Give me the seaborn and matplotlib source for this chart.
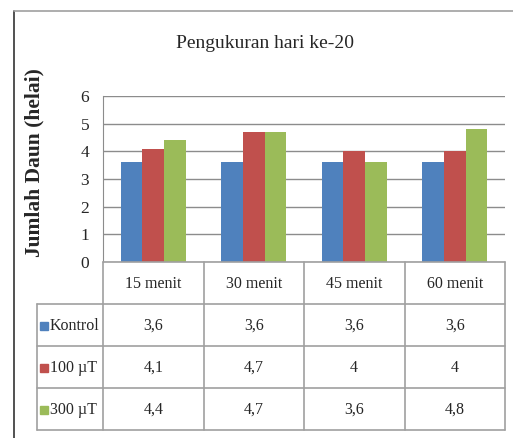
import matplotlib
matplotlib.use("Agg")
import matplotlib.pyplot as plt
import seaborn as sns
import pandas as pd
from matplotlib.lines import Line2D

# data
waktu = ["15 menit", "30 menit", "45 menit", "60 menit"]
perlakuan = ["Kontrol", "100 µT", "300 µT"]
kontrol = [3.6, 3.6, 3.6, 3.6]
ut100 = [4.1, 4.7, 4.0, 4.0]
ut300 = [4.4, 4.7, 3.6, 4.8]
warna = ["#4F81BD", "#C0504D", "#9BBB59"]

nilai = [kontrol, ut100, ut300]
df = pd.DataFrame({
    "waktu": waktu * 3,
    "perlakuan": [p for p in perlakuan for _ in waktu],
    "jumlah": kontrol + ut100 + ut300,
})

sns.set_style("white")
plt.rcParams["font.family"] = ["Liberation Serif", "DejaVu Serif"]

W, H = 513, 438
fig = plt.figure(figsize=(W / 100, H / 100), dpi=100)


def box(l, t, r, b):
    return [l / W, 1 - b / H, (r - l) / W, (b - t) / H]


# outer frame (left and top edges)
fig.add_artist(Line2D([14 / W, 14 / W], [0, 1 - 11 / H], color="#333333", lw=1.2))
fig.add_artist(Line2D([14 / W, 1], [1 - 11 / H, 1 - 11 / H], color="#a0a0a0", lw=1.2))

ax = fig.add_axes(box(103, 96, 505, 262))
sns.barplot(data=df, x="waktu", y="jumlah", hue="perlakuan", palette=warna,
            width=0.65, saturation=1, legend=False, linewidth=0, ax=ax)
ax.set_xlim(-0.5, 3.5)
ax.set_ylim(0, 6)
ax.set_yticks(range(7))
ax.yaxis.grid(True, color="#8c8c8c", lw=1)
ax.set_axisbelow(True)
ax.set_xticks([])
ax.set_xlabel("")
ax.set_ylabel("")
for s in ["top", "right", "bottom"]:
    ax.spines[s].set_visible(False)
ax.spines["left"].set_color("#8c8c8c")
ax.tick_params(axis="y", length=0, pad=10, labelsize=12.5)

fig.text(265 / W, 1 - 44 / H, "Pengukuran hari ke-20", ha="center", va="center", fontsize=14)
fig.text(34 / W, 1 - 163 / H, "Jumlah Daun (helai)", ha="center", va="center",
         rotation=90, fontsize=15.5, fontweight="bold")

# data table
x_left = -0.5 - 66 / 100.5
tab = fig.add_axes(box(37, 262, 505, 430))
tab.set_xlim(x_left, 3.5)
tab.set_ylim(4, 0)
tab.axis("off")
garis = dict(color="#a0a0a0", lw=1.2, clip_on=False)
tab.plot([-0.5, 3.5], [0, 0], **garis)
for r in range(1, 5):
    tab.plot([x_left, 3.5], [r, r], **garis)
for xv in [-0.5, 0.5, 1.5, 2.5, 3.5]:
    tab.plot([xv, xv], [0, 4], **garis)
tab.plot([x_left, x_left], [1, 4], **garis)

for i, w in enumerate(waktu):
    tab.text(i, 0.52, w, ha="center", va="center", fontsize=11.5)
for r, (p, vals, c) in enumerate(zip(perlakuan, nilai, warna)):
    y = r + 1.52
    tab.plot([x_left + 0.065], [y], marker="s", ms=6, color=c, clip_on=False)
    tab.text(x_left + 0.13, y, p, ha="left", va="center", fontsize=11.5)
    for i, v in enumerate(vals):
        tab.text(i, y, f"{v:g}".replace(".", ","), ha="center", va="center", fontsize=11.5)

fig.savefig("out.png", dpi=100)
